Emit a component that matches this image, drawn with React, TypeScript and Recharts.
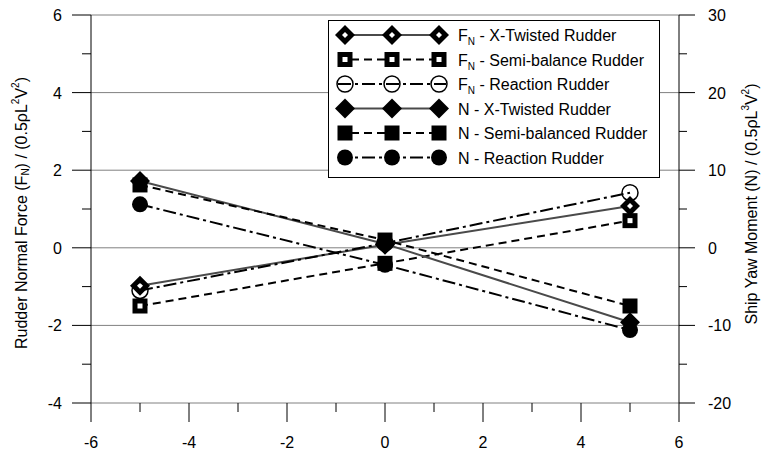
import { ComposedChart, Line, XAxis, YAxis, ReferenceLine, Legend } from "recharts";

// incidence / drift angle positions
const xValues = [-5, 0, 5];

// rudder normal force, left axis
const fnXTwisted = [-0.98, 0.08, 1.08];
const fnSemiBalance = [-1.5, -0.4, 0.7];
const fnReaction = [-1.1, 0.12, 1.42];

// ship yaw moment, right axis
const nXTwisted = [8.6, 0.5, -9.6];
const nSemiBalanced = [8.1, 1.0, -7.5];
const nReaction = [5.6, -2.2, -10.6];

const xTicks = [-6, -5, -4, -3, -2, -1, 0, 1, 2, 3, 4, 5, 6];
const leftTicks = [-4, -3, -2, -1, 0, 1, 2, 3, 4, 5, 6];
const rightTicks = [-20, -15, -10, -5, 0, 5, 10, 15, 20, 25, 30];
const gridValues = [-2, 0, 2, 4, 6];

const data = xValues.map((x, i) => ({
  x,
  fnX: fnXTwisted[i],
  fnSemi: fnSemiBalance[i],
  fnReact: fnReaction[i],
  nX: nXTwisted[i],
  nSemi: nSemiBalanced[i],
  nReact: nReaction[i],
}));

const FONT = "'Liberation Sans', Arial, sans-serif";

type Kind = "diamondHole" | "squareHole" | "circleOpen" | "diamond" | "square" | "circle";

function Marker({ kind, cx, cy }: { kind: Kind; cx: number; cy: number }) {
  const d = 10;
  const diamond = (r: number) => `${cx},${cy - r} ${cx + r},${cy} ${cx},${cy + r} ${cx - r},${cy}`;
  if (kind === "diamond" || kind === "diamondHole") {
    return (
      <g>
        <polygon points={diamond(d)} fill="#000" />
        {kind === "diamondHole" && <polygon points={diamond(3)} fill="#fff" />}
      </g>
    );
  }
  if (kind === "square" || kind === "squareHole") {
    return (
      <g>
        <rect x={cx - 7.5} y={cy - 7.5} width={15} height={15} fill="#000" />
        {kind === "squareHole" && <rect x={cx - 2.5} y={cy - 2.5} width={5} height={5} fill="#fff" />}
      </g>
    );
  }
  if (kind === "circleOpen") {
    return <circle cx={cx} cy={cy} r={8} fill="none" stroke="#000" strokeWidth={1.5} />;
  }
  return <circle cx={cx} cy={cy} r={8} fill="#000" />;
}

const dotFor = (kind: Kind) => (p: any) => <Marker key={`${kind}-${p.index}`} kind={kind} cx={p.cx} cy={p.cy} />;

const series = [
  { key: "fnX", axis: "left", kind: "diamondHole" as Kind, stroke: "#4a4a4a", dash: undefined, fn: true, name: "X-Twisted Rudder" },
  { key: "fnSemi", axis: "left", kind: "squareHole" as Kind, stroke: "#000", dash: "8 5", fn: true, name: "Semi-balance Rudder" },
  { key: "fnReact", axis: "left", kind: "circleOpen" as Kind, stroke: "#000", dash: "13 4 3 4", fn: true, name: "Reaction Rudder" },
  { key: "nX", axis: "right", kind: "diamond" as Kind, stroke: "#4a4a4a", dash: undefined, fn: false, name: "X-Twisted Rudder" },
  { key: "nSemi", axis: "right", kind: "square" as Kind, stroke: "#000", dash: "8 5", fn: false, name: "Semi-balanced Rudder" },
  { key: "nReact", axis: "right", kind: "circle" as Kind, stroke: "#000", dash: "13 4 3 4", fn: false, name: "Reaction Rudder" },
];

function LegendBox() {
  const rowY = (i: number) => 15 + i * 24.5;
  return (
    <svg width={332} height={158} style={{ display: "block", position: "absolute", left: 0, top: 0 }}>
      <rect x={0.5} y={0.5} width={331} height={157} fill="#fff" stroke="#000" strokeWidth={1} />
      {series.map((s, i) => {
        const y = rowY(i);
        return (
          <g key={s.key}>
            <line x1={10} x2={118} y1={y} y2={y} stroke={s.stroke} strokeWidth={2} strokeDasharray={s.dash} />
            {[17, 64, 111].map((mx) => (
              <Marker key={mx} kind={s.kind} cx={mx} cy={y} />
            ))}
            <text x={130} y={y + 6} fontSize={16} fontFamily={FONT} fill="#000">
              {s.fn ? (
                <>
                  F<tspan fontSize={10} dy={4}>N</tspan>
                  <tspan dy={-4}>{` - ${s.name}`}</tspan>
                </>
              ) : (
                `N - ${s.name}`
              )}
            </text>
          </g>
        );
      })}
    </svg>
  );
}

function XTick(props: any) {
  const { x, y, payload } = props;
  const major = payload.value % 2 === 0;
  return (
    <g>
      <line x1={x} x2={x} y1={y} y2={y + (major ? 19 : 9)} stroke="#000" strokeWidth={1} />
      {major && (
        <text x={x} y={y + 45} textAnchor="middle" fontSize={16} fontFamily={FONT} fill="#000">
          {payload.value}
        </text>
      )}
    </g>
  );
}

function LeftTick(props: any) {
  const { x, y, payload } = props;
  const major = payload.value % 2 === 0;
  return (
    <g>
      <line x1={x - (major ? 19 : 9)} x2={x} y1={y} y2={y} stroke="#000" strokeWidth={1} />
      {major && (
        <text x={x - 29} y={y + 6} textAnchor="end" fontSize={16} fontFamily={FONT} fill="#000">
          {payload.value}
        </text>
      )}
    </g>
  );
}

function RightTick(props: any) {
  const { x, y, payload } = props;
  const major = payload.value % 10 === 0;
  return (
    <g>
      <line x1={x} x2={x + (major ? 16 : 8)} y1={y} y2={y} stroke="#000" strokeWidth={1} />
      {major && (
        <text x={x + 29} y={y + 6} textAnchor="start" fontSize={16} fontFamily={FONT} fill="#000">
          {payload.value}
        </text>
      )}
    </g>
  );
}

function LeftLabel(props: any) {
  const vb = props.viewBox;
  const cx = vb.x + 21;
  const cy = vb.y + vb.height / 2 + 4;
  return (
    <text x={cx} y={cy} transform={`rotate(-90 ${cx} ${cy})`} textAnchor="middle" dominantBaseline="central" fontSize={16} fontFamily={FONT} fill="#000">
      Rudder Normal Force (F<tspan fontSize={10} dy={4}>N</tspan>
      <tspan dy={-4}>) / (0.5ρL</tspan>
      <tspan fontSize={10} dy={-6}>2</tspan>
      <tspan dy={6}>V</tspan>
      <tspan fontSize={10} dy={-6}>2</tspan>
      <tspan dy={6}>)</tspan>
    </text>
  );
}

function RightLabel(props: any) {
  const vb = props.viewBox;
  const cx = vb.x + 72;
  const cy = vb.y + vb.height / 2 - 5;
  return (
    <text x={cx} y={cy} transform={`rotate(-90 ${cx} ${cy})`} textAnchor="middle" dominantBaseline="central" fontSize={16} fontFamily={FONT} fill="#000">
      Ship Yaw Moment (N) / (0.5ρL
      <tspan fontSize={10} dy={-6}>3</tspan>
      <tspan dy={6}>V</tspan>
      <tspan fontSize={10} dy={-6}>2</tspan>
      <tspan dy={6}>)</tspan>
    </text>
  );
}

export default function App() {
  return (
    <div style={{ position: "absolute", left: 0, top: 0, width: 763, height: 450, background: "#fff" }}>
      <ComposedChart width={763} height={450} data={data} margin={{ top: 15, right: 0, bottom: 0, left: 0 }}>
        {gridValues.map((v) => (
          <ReferenceLine key={v} yAxisId="left" y={v} stroke="#808080" strokeWidth={1} ifOverflow="extendDomain" />
        ))}
        <XAxis
          dataKey="x"
          type="number"
          domain={[-6, 6]}
          ticks={xTicks}
          interval={0}
          height={47}
          tickSize={0}
          tickMargin={0}
          tickLine={false}
          stroke="#808080"
          tick={<XTick />}
        />
        <YAxis
          yAxisId="left"
          orientation="left"
          domain={[-4, 6]}
          ticks={leftTicks}
          interval={0}
          width={91}
          tickSize={0}
          tickMargin={0}
          tickLine={false}
          stroke="#000"
          tick={<LeftTick />}
          label={{ content: <LeftLabel /> }}
        />
        <YAxis
          yAxisId="right"
          orientation="right"
          domain={[-20, 30]}
          ticks={rightTicks}
          interval={0}
          width={84}
          tickSize={0}
          tickMargin={0}
          tickLine={false}
          stroke="#000"
          tick={<RightTick />}
          label={{ content: <RightLabel /> }}
        />
        {series.map((s) => (
          <Line
            key={s.key}
            yAxisId={s.axis}
            dataKey={s.key}
            type="linear"
            stroke={s.stroke}
            strokeWidth={2}
            strokeDasharray={s.dash}
            dot={dotFor(s.kind)}
            activeDot={false}
            isAnimationActive={false}
          />
        ))}
        <Legend
          content={<LegendBox />}
          wrapperStyle={{ position: "absolute", left: 328, top: 20, width: 0, height: 0, overflow: "visible" }}
        />
      </ComposedChart>
    </div>
  );
}
